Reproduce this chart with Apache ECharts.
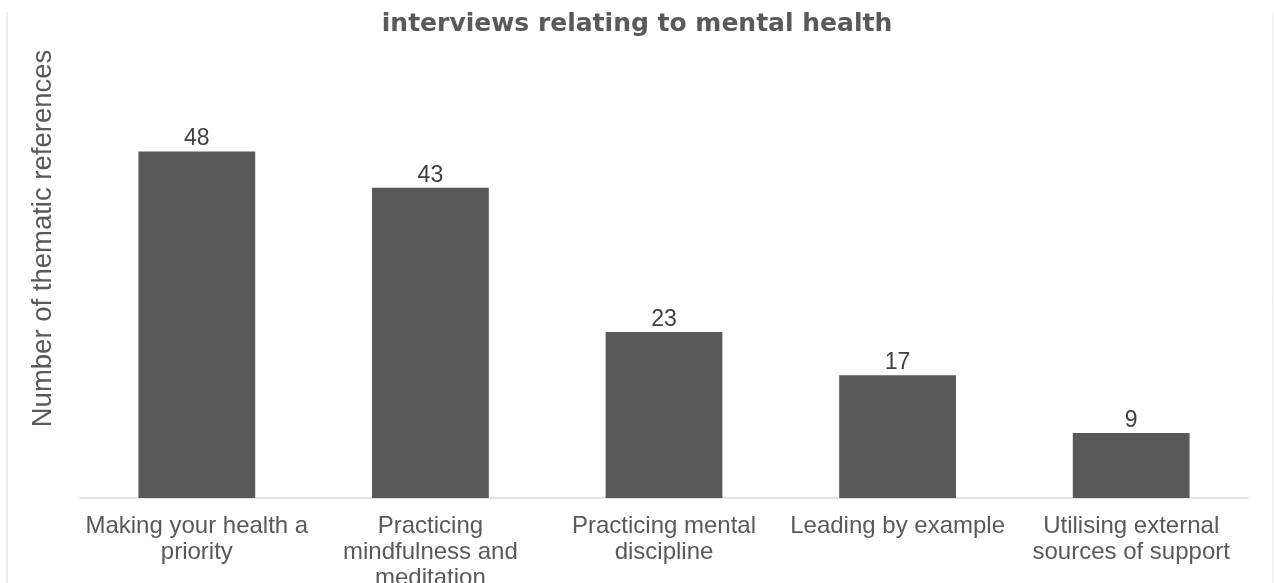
<!DOCTYPE html>
<html>
<head>
<meta charset="utf-8">
<script src="https://cdn.jsdelivr.net/npm/echarts@6/dist/echarts.min.js"></script>
<style>
html,body{margin:0;padding:0;background:#fff;}
#chart{width:1274px;height:583px;}
</style>
</head>
<body>
<div id="chart"></div>
<script>
const titleText = 'interviews relating to mental health';
const yAxisName = 'Number of thematic references';
const categories = [
  'Making your health a\npriority',
  'Practicing\nmindfulness and\nmeditation',
  'Practicing mental\ndiscipline',
  'Leading by example',
  'Utilising external\nsources of support'
];
const values = [48, 43, 23, 17, 9];

const chart = echarts.init(document.getElementById('chart'));
chart.setOption({
  animation: false,
  backgroundColor: '#ffffff',
  title: {
    text: titleText,
    left: 'center',
    top: 7,
    textStyle: {
      fontFamily: 'DejaVu Sans',
      fontWeight: 'bold',
      fontSize: 25,
      color: '#595959'
    }
  },
  graphic: [
    { type: 'line', shape: { x1: 7, y1: 12, x2: 7, y2: 583 }, style: { stroke: '#e6e6e6', lineWidth: 1.5 }, silent: true },
    { type: 'line', shape: { x1: 1272.5, y1: 12, x2: 1272.5, y2: 583 }, style: { stroke: '#ededed', lineWidth: 1 }, silent: true }
  ],
  grid: { left: 80, right: 26, top: 65, bottom: 85, containLabel: false, outerBoundsMode: 'none' },
  xAxis: {
    type: 'category',
    data: categories,
    axisLine: { show: true, lineStyle: { color: '#d9d9d9', width: 1.5 } },
    axisTick: { show: false },
    axisLabel: {
      interval: 0,
      margin: 15,
      fontFamily: 'Liberation Sans',
      fontSize: 24,
      lineHeight: 26,
      color: '#595959'
    }
  },
  yAxis: {
    type: 'value',
    min: 0,
    max: 60,
    name: yAxisName,
    nameLocation: 'middle',
    nameGap: 23,
    nameTextStyle: {
      fontFamily: 'Liberation Sans',
      fontSize: 27.5,
      color: '#595959',
      padding: [0, 0, 0, 86]
    },
    axisLine: { show: false },
    axisTick: { show: false },
    axisLabel: { show: false },
    splitLine: { show: false }
  },
  series: [{
    type: 'bar',
    data: values,
    barWidth: '50%',
    itemStyle: { color: '#595959' },
    label: {
      show: true,
      position: 'top',
      distance: 1,
      fontFamily: 'Liberation Sans',
      fontSize: 23,
      color: '#404040'
    }
  }]
});
</script>
</body>
</html>
